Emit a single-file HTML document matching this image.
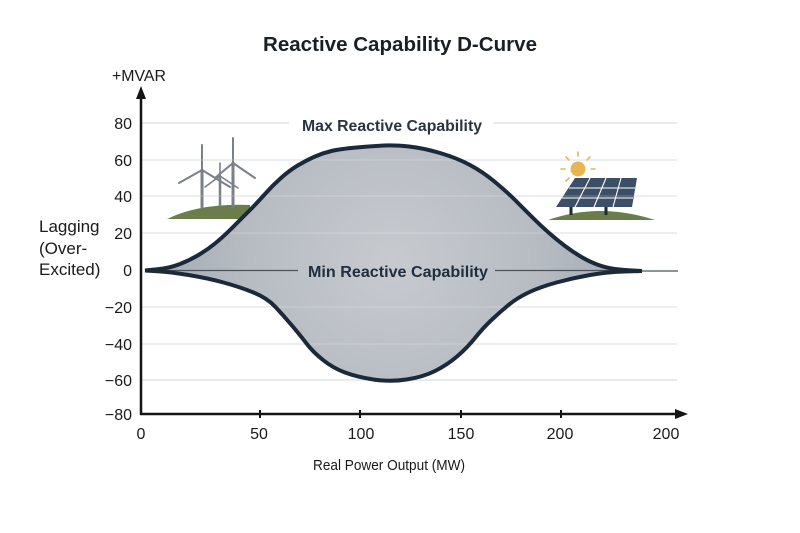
<!DOCTYPE html>
<html>
<head>
<meta charset="utf-8">
<style>
html,body{margin:0;padding:0;background:#fff;}
svg{display:block;}
text{font-family:"Liberation Sans","DejaVu Sans",sans-serif;}
</style>
</head>
<body>
<svg width="800" height="533" viewBox="0 0 800 533" xmlns="http://www.w3.org/2000/svg">
<defs>
<radialGradient id="fg" gradientUnits="userSpaceOnUse" cx="392" cy="262" r="250">
<stop offset="0" stop-color="#c7cbd0"/>
<stop offset="0.6" stop-color="#b6bbc2"/>
<stop offset="1" stop-color="#a2a9b2"/>
</radialGradient>
</defs>
<rect width="800" height="533" fill="#fff"/>

<!-- title -->
<text x="400" y="51" text-anchor="middle" font-size="20" font-weight="bold" fill="#1a1f26" textLength="274" lengthAdjust="spacingAndGlyphs">Reactive Capability D-Curve</text>

<!-- gridlines -->
<g stroke="#dcdee1" stroke-width="1.2">
<line x1="141" y1="123" x2="289" y2="123"/>
<line x1="493" y1="123" x2="677" y2="123"/>
<line x1="141" y1="160" x2="677" y2="160"/>
<line x1="141" y1="196" x2="677" y2="196"/>
<line x1="141" y1="233" x2="677" y2="233"/>
<line x1="141" y1="307" x2="677" y2="307"/>
<line x1="141" y1="344" x2="677" y2="344"/>
<line x1="141" y1="380" x2="677" y2="380"/>
</g>

<!-- wind hill & turbines -->
<path d="M167,219 Q200,203 250,205 L250,219 Z" fill="#6b7d4a"/>
<g stroke="#7b7f87" stroke-linecap="round">
<line x1="202" y1="170" x2="202" y2="207" stroke-width="3"/>
<line x1="202" y1="170" x2="202" y2="145" stroke-width="2"/>
<line x1="202" y1="170" x2="179" y2="183" stroke-width="2"/>
<line x1="202" y1="170" x2="230" y2="187" stroke-width="2"/>
<line x1="220" y1="176" x2="220" y2="205" stroke-width="2.5"/>
<line x1="220" y1="176" x2="220" y2="163" stroke-width="1.6"/>
<line x1="220" y1="176" x2="205" y2="187" stroke-width="1.6"/>
<line x1="220" y1="176" x2="238" y2="188" stroke-width="1.6"/>
<line x1="233" y1="163" x2="233" y2="206" stroke-width="3"/>
<line x1="233" y1="163" x2="233" y2="138" stroke-width="2"/>
<line x1="233" y1="163" x2="215" y2="178" stroke-width="2"/>
<line x1="233" y1="163" x2="255" y2="178" stroke-width="2"/>
</g>

<!-- solar -->
<path d="M548,220 Q600,202 655,220 Z" fill="#6b7d4a"/>
<g stroke="#e8b650" stroke-width="1.6" stroke-linecap="round">
<line x1="578" y1="156" x2="578" y2="152"/>
<line x1="587" y1="160" x2="590" y2="157"/>
<line x1="591" y1="169" x2="595" y2="169"/>
<line x1="569" y1="160" x2="566" y2="157"/>
<line x1="565" y1="169" x2="561" y2="169"/>
<line x1="569" y1="178" x2="566" y2="181"/>
</g>
<circle cx="578" cy="169" r="7.5" fill="#e8b650"/>
<line x1="571" y1="205" x2="571" y2="215" stroke="#1f2a2a" stroke-width="3"/>
<line x1="606" y1="205" x2="606" y2="215" stroke="#1f2a2a" stroke-width="3"/>
<path d="M575,178 L637,178 L632,207 L556,207 Z" fill="#3d4f66"/>
<g stroke="#fff" stroke-width="1.1">
<line x1="569" y1="188" x2="635" y2="188"/>
<line x1="562" y1="198" x2="633" y2="198"/>
<line x1="590" y1="178" x2="575" y2="207"/>
<line x1="606" y1="178" x2="594" y2="207"/>
<line x1="621" y1="178" x2="613" y2="207"/>
</g>

<!-- fill -->
<path fill="url(#fg)" d="M145,270.5 L157.5,269.25 Q170,268 180,264 Q190,260 198.5,255 Q207,250 215,243.5 Q223,237 231.5,228.5 Q240,220 248.5,211.5 Q257,203 265,194 Q273,185 281.5,177.5 Q290,170 298.5,165 Q307,160 315,156.5 Q323,153 331.5,151 Q340,149 356.5,147.5 Q373,146 384,145.5 Q395,145 409,146.5 Q423,148 440,153 Q457,158 470,165 Q483,172 495,182 Q507,192 515,200 Q523,208 531.5,216.5 Q540,225 548.5,232.5 Q557,240 565,246 Q573,252 581.5,257 Q590,262 598.5,265 Q607,268 615,269 Q623,270 632.5,270.5 L642,271 L624.5,271.5 Q607,272 590,275 Q573,278 556.5,282.5 Q540,287 528.5,292.5 Q517,298 508.5,305 Q500,312 491.5,320 Q483,328 475,338 Q467,348 457,356.5 Q447,365 435,371 Q423,377 406.5,379.5 Q390,382 373.5,379.5 Q357,377 345,372.5 Q333,368 323,360 Q313,352 306.5,343.5 Q300,335 291.5,325 Q283,315 275,306.5 Q267,298 253.5,292.5 Q240,287 223.5,282.5 Q207,278 188.5,275 Q170,272 157.5,271.25 Z"/>

<!-- light grid overlay inside fill -->
<g stroke="#ffffff" stroke-opacity="0.22" stroke-width="1.2">
<line x1="141" y1="160" x2="677" y2="160"/>
<line x1="141" y1="196" x2="677" y2="196"/>
<line x1="141" y1="233" x2="677" y2="233"/>
<line x1="141" y1="307" x2="677" y2="307"/>
<line x1="141" y1="344" x2="677" y2="344"/>
</g>

<!-- min line -->
<g stroke="#4a525c" stroke-width="1.2">
<line x1="165" y1="270.5" x2="298" y2="270.5"/>
<line x1="495" y1="270.5" x2="625" y2="270.5"/>
<line x1="640" y1="271" x2="678" y2="271"/>
</g>

<!-- curves -->
<g fill="none" stroke="#1b2a3a" stroke-width="4" stroke-linecap="butt" stroke-linejoin="round">
<path d="M145,270.5 L157.5,269.25 Q170,268 180,264 Q190,260 198.5,255 Q207,250 215,243.5 Q223,237 231.5,228.5 Q240,220 248.5,211.5 Q257,203 265,194 Q273,185 281.5,177.5 Q290,170 298.5,165 Q307,160 315,156.5 Q323,153 331.5,151 Q340,149 356.5,147.5 Q373,146 384,145.5 Q395,145 409,146.5 Q423,148 440,153 Q457,158 470,165 Q483,172 495,182 Q507,192 515,200 Q523,208 531.5,216.5 Q540,225 548.5,232.5 Q557,240 565,246 Q573,252 581.5,257 Q590,262 598.5,265 Q607,268 615,269 Q623,270 632.5,270.5 L642,271"/>
<path d="M145,270.5 L157.5,271.25 Q170,272 188.5,275 Q207,278 223.5,282.5 Q240,287 253.5,292.5 Q267,298 275,306.5 Q283,315 291.5,325 Q300,335 306.5,343.5 Q313,352 323,360 Q333,368 345,372.5 Q357,377 373.5,379.5 Q390,382 406.5,379.5 Q423,377 435,371 Q447,365 457,356.5 Q467,348 475,338 Q483,328 491.5,320 Q500,312 508.5,305 Q517,298 528.5,292.5 Q540,287 556.5,282.5 Q573,278 590,275 Q607,272 624.5,271.5 L642,271"/>
</g>

<!-- axes -->
<g stroke="#141414" stroke-width="2.5">
<line x1="141" y1="96" x2="141" y2="415"/>
<line x1="140" y1="414" x2="678" y2="414"/>
<line x1="260" y1="410" x2="260" y2="418" stroke-width="2"/>
<line x1="360" y1="410" x2="360" y2="418" stroke-width="2"/>
<line x1="461" y1="410" x2="461" y2="418" stroke-width="2"/>
<line x1="561" y1="410" x2="561" y2="418" stroke-width="2"/>
</g>
<path d="M141,86 L146,99 L136,99 Z" fill="#141414"/>
<path d="M688,414 L675,409 L675,419 Z" fill="#141414"/>

<!-- y tick labels -->
<g font-size="16" fill="#1a1a1a" text-anchor="end">
<text x="132" y="129">80</text>
<text x="132" y="166">60</text>
<text x="132" y="202">40</text>
<text x="132" y="239">20</text>
<text x="132" y="276">0</text>
<text x="132" y="313">−20</text>
<text x="132" y="350">−40</text>
<text x="132" y="386">−60</text>
<text x="132" y="420">−80</text>
</g>
<text x="139" y="81" font-size="15.5" fill="#1a1a1a" text-anchor="middle" textLength="54" lengthAdjust="spacingAndGlyphs">+MVAR</text>

<!-- x tick labels -->
<g font-size="16" fill="#1a1a1a" text-anchor="middle">
<text x="141" y="439">0</text>
<text x="259" y="439">50</text>
<text x="361" y="439">100</text>
<text x="461" y="439">150</text>
<text x="560" y="439">200</text>
<text x="666" y="439">200</text>
</g>
<text x="389" y="470" font-size="15" fill="#1a1a1a" text-anchor="middle" textLength="152" lengthAdjust="spacingAndGlyphs">Real Power Output (MW)</text>

<!-- left label -->
<g font-size="17" fill="#1a1a1a">
<text x="39" y="232">Lagging</text>
<text x="39" y="254">(Over-</text>
<text x="39" y="275">Excited)</text>
</g>

<!-- series labels -->
<text x="392" y="131" font-size="15.5" font-weight="bold" fill="#2a3441" text-anchor="middle" textLength="180" lengthAdjust="spacingAndGlyphs">Max Reactive Capability</text>
<text x="398" y="277" font-size="15.5" font-weight="bold" fill="#1f2d3d" text-anchor="middle" textLength="180" lengthAdjust="spacingAndGlyphs">Min Reactive Capability</text>
</svg>
</body>
</html>
